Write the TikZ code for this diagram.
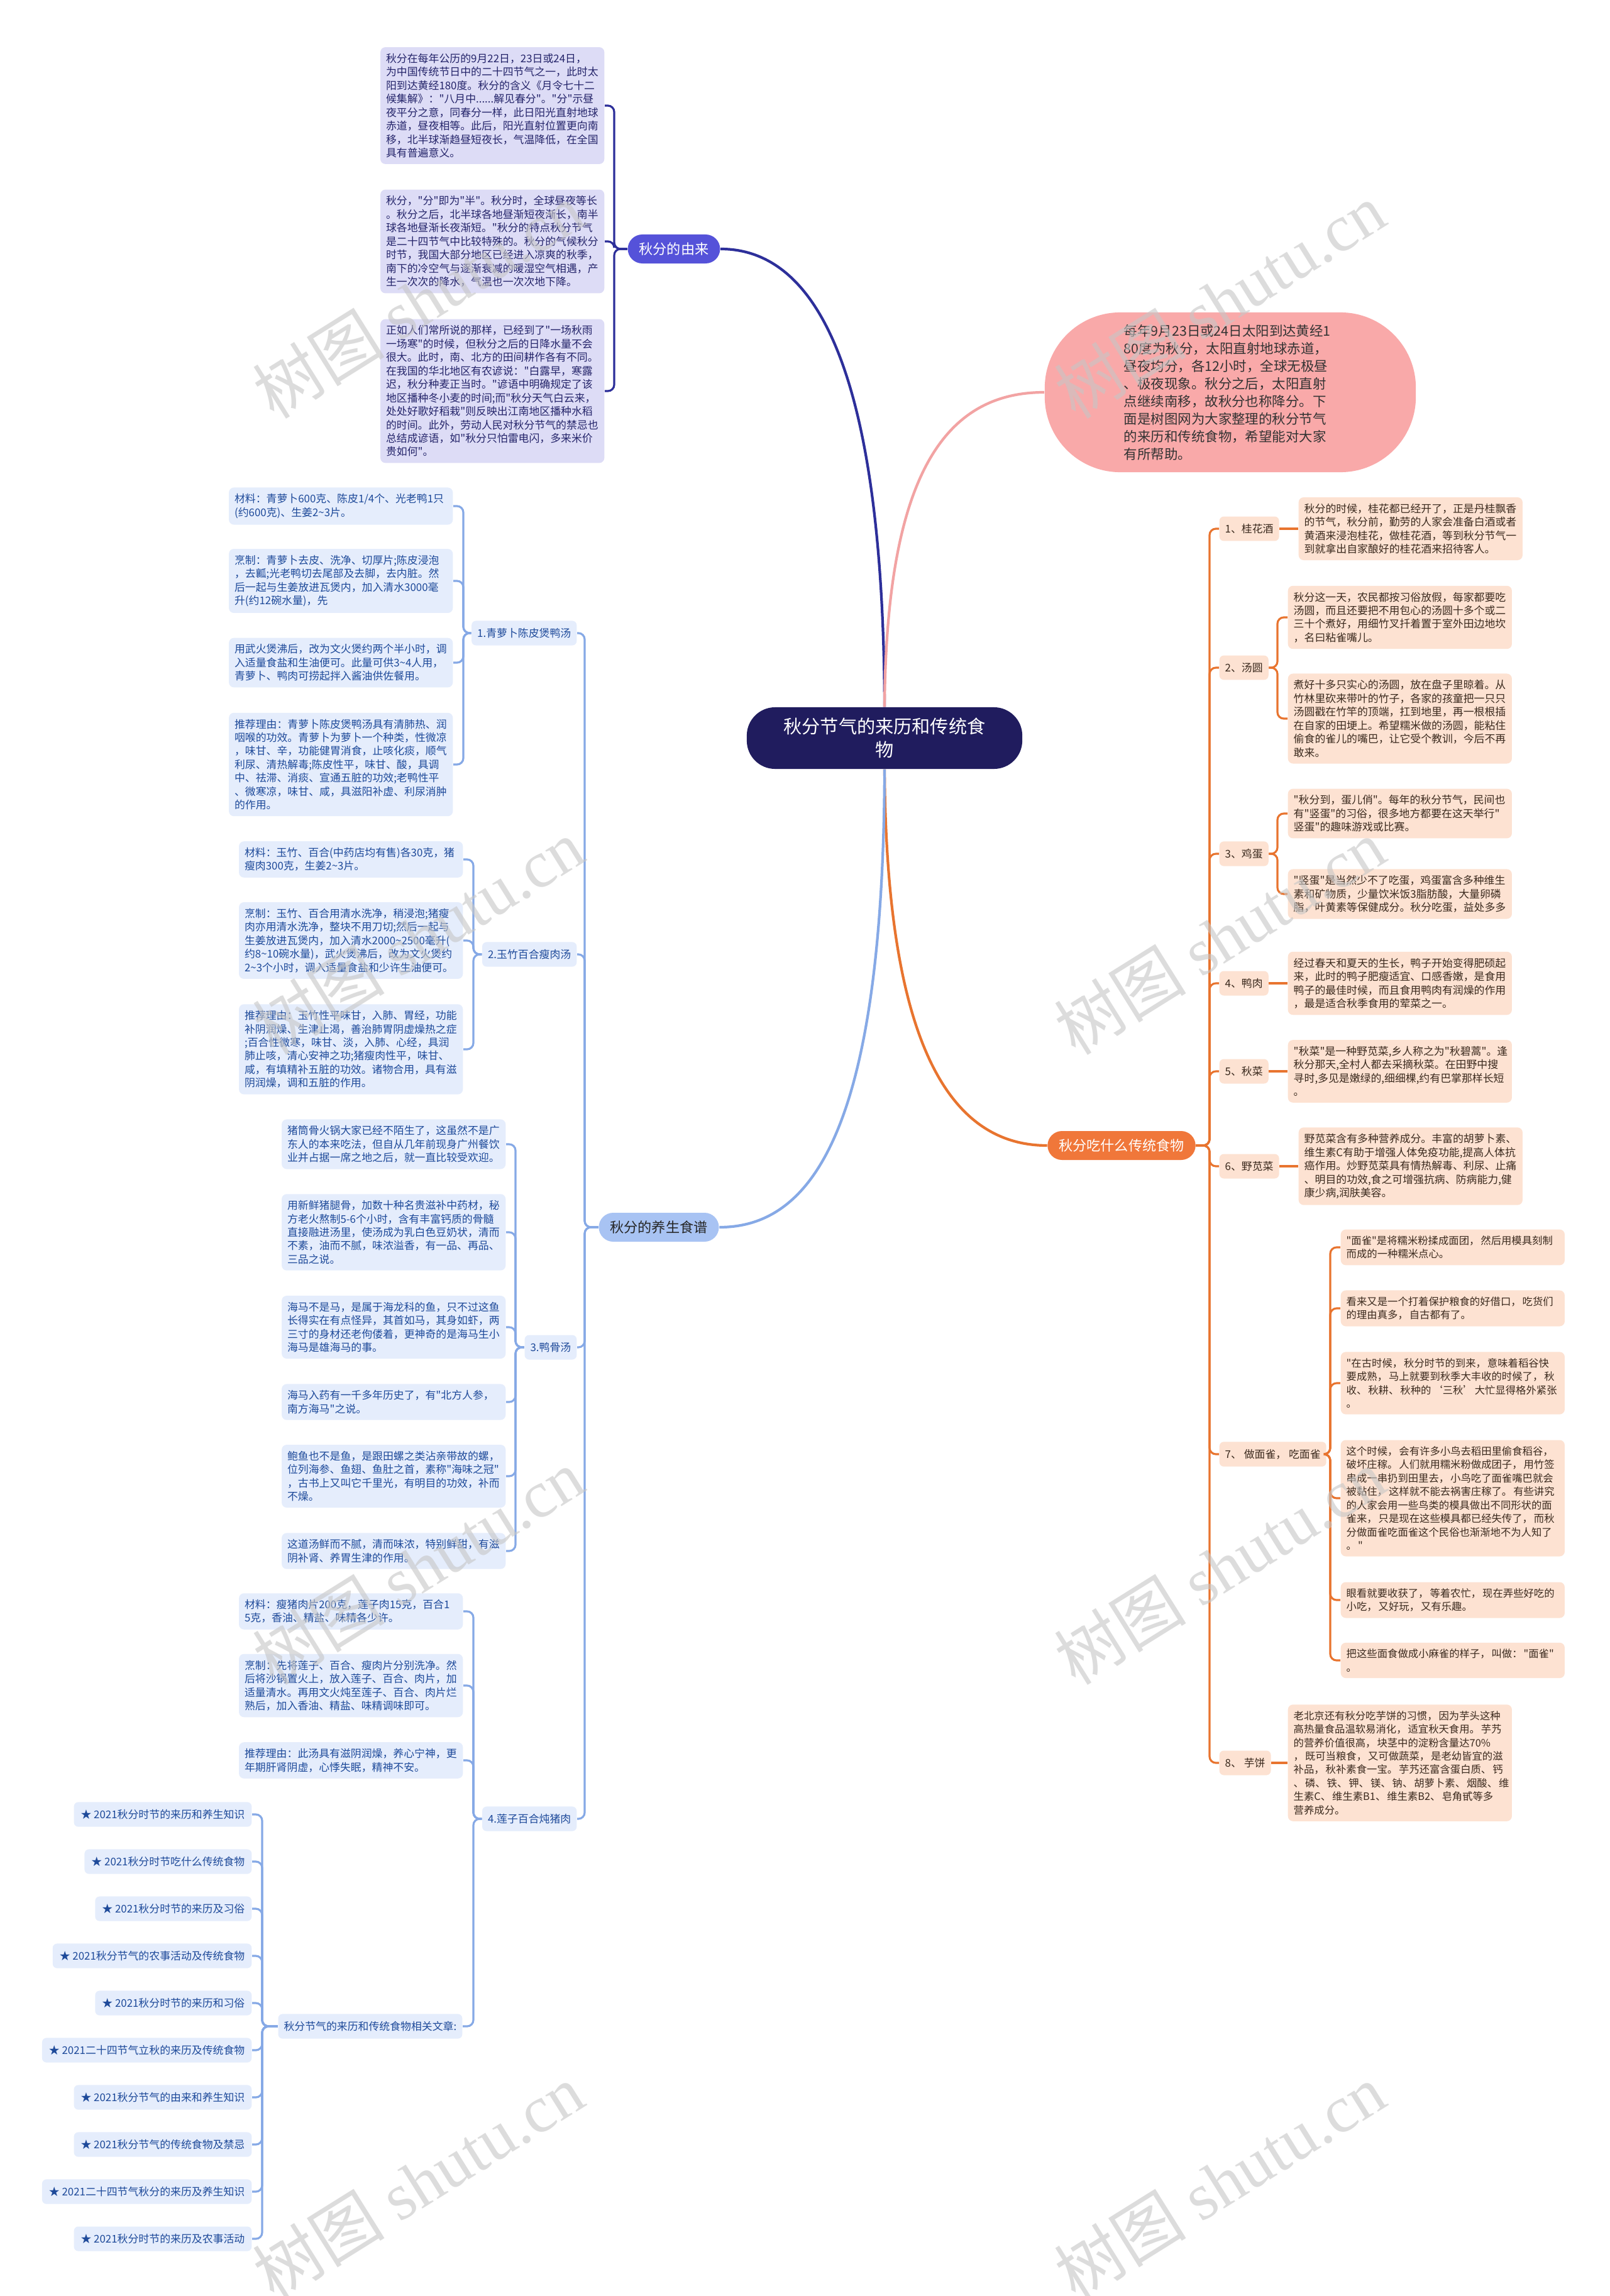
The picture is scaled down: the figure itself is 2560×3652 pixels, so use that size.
\documentclass[tikz,border=0pt]{standalone}
\usepackage{fontspec}
\newfontfamily\cjkfont{Noto Sans CJK SC}
\newfontfamily\marcafont{Liberation Serif}
\newcommand\hueco{\kern0.12em}
\definecolor{raizFill}{HTML}{201C5E}
\definecolor{introFill}{HTML}{F9A9A9}
\definecolor{introLine}{HTML}{F2A3A3}
\definecolor{youFill}{HTML}{5552D9}
\definecolor{youBox}{HTML}{DDDCF6}
\definecolor{youText}{HTML}{24246A}
\definecolor{youLine}{HTML}{2D2F9A}
\definecolor{yangFill}{HTML}{A8C3F3}
\definecolor{yangBox}{HTML}{E5EDFC}
\definecolor{yangText}{HTML}{1E4A9A}
\definecolor{yangLine}{HTML}{86A9E6}
\definecolor{chiFill}{HTML}{F0773A}
\definecolor{chiBox}{HTML}{FDE2D2}
\definecolor{chiText}{HTML}{3B2A1E}
\definecolor{chiLine}{HTML}{E8742F}
\begin{document}
\cjkfont
\begin{tikzpicture}[
    x=0.01cm,
    y=-0.01cm,
    font=\fontsize{4.8}{6.1}\selectfont,
    caja/.style={rounded corners=0.08cm,inner xsep=0.09cm,inner ysep=0.1cm,
        text width=3.38cm,align=left},
    cajaYou/.style={caja,fill=youBox,text=youText},
    cajaYang/.style={caja,fill=yangBox,text=yangText},
    cajaChi/.style={caja,fill=chiBox,text=chiText},
    cajaMian/.style={cajaChi,font=\fontsize{4.65}{6.1}\selectfont},
    tema/.style={rounded corners=0.07cm,inner xsep=0.09cm,minimum height=0.34cm},
    temaYang/.style={tema,fill=yangBox,text=yangText},
    temaChi/.style={tema,fill=chiBox,text=chiText},
    rama/.style={rounded corners=0.23cm,inner xsep=0.18cm,minimum height=0.46cm,
        font=\fontsize{6.3}{7.5}\selectfont},
    ligaYou/.style={youLine,line width=0.9pt,rounded corners=0.1cm},
    ligaYang/.style={yangLine,line width=0.9pt,rounded corners=0.1cm},
    ligaChi/.style={chiLine,line width=0.9pt,rounded corners=0.1cm},
    marca/.style={text=gray!45,opacity=0.6,rotate=32,font=\fontsize{30}{30}\selectfont}
]
    \useasboundingbox[fill=white] (0,0) rectangle (2560,3652);

    % centro
    \node[fill=raizFill,text=white,rounded corners=0.45cm,minimum width=4.38cm,
        minimum height=0.98cm,align=center,font=\fontsize{8.3}{10.6}\selectfont]
        (raiz) at (1407,1174) {秋分节气的来历和传统食\\物};
    \node[fill=introFill,text=black!80,rounded corners=1.2cm,minimum width=5.9cm,
        minimum height=2.54cm,text width=3.38cm,align=left,
        font=\fontsize{6.1}{7.97}\selectfont] (intro) at (1957,624)
        {每年9月23日或24日太阳到达黄经1\\
         80度为秋分，太阳直射地球赤道，\\
         昼夜均分，各12小时，全球无极昼\\
         、极夜现象。秋分之后，太阳直射\\
         点继续南移，故秋分也称降分。下\\
         面是树图网为大家整理的秋分节气\\
         的来历和传统食物，希望能对大家\\
         有所帮助。};
    \node[rama,fill=youFill,text=white] (youlai) at (1072,396) {秋分的由来};
    \node[rama,fill=chiFill,text=white] (chi) at (1784,1822) {秋分吃什么传统食物};
    \node[rama,fill=yangFill,text=black!85] (yang) at (1048,1952) {秋分的养生食谱};
    \draw[youLine,line width=1.2pt] (raiz.north)
        .. controls (1405,620) and (1310,396) .. (youlai.east);
    \draw[introLine,line width=1.2pt] (raiz.north)
        .. controls (1410,760) and (1500,624) .. (intro.west);
    \draw[chiLine,line width=1.2pt] (raiz.south)
        .. controls (1410,1660) and (1510,1822) .. (chi.west);
    \draw[yangLine,line width=1.2pt] (raiz.south)
        .. controls (1405,1800) and (1290,1952) .. (yang.east);

    % 秋分的由来
    \node[cajaYou,anchor=east] (youlai1) at (962,168)
        {秋分在每年公历的9月22日，23日或24日，\\
         为中国传统节日中的二十四节气之一，此时太\\
         阳到达黄经180度。秋分的含义《月令七十二\\
         候集解》："八月中......解见春分"。"分"示昼\\
         夜平分之意，同春分一样，此日阳光直射地球\\
         赤道，昼夜相等。此后，阳光直射位置更向南\\
         移，北半球渐趋昼短夜长，气温降低，在全国\\
         具有普遍意义。};
    \node[cajaYou,anchor=east] (youlai2) at (962,384)
        {秋分，"分"即为"半"。秋分时，全球昼夜等长\\
         。秋分之后，北半球各地昼渐短夜渐长，南半\\
         球各地昼渐长夜渐短。"秋分的特点秋分节气\\
         是二十四节气中比较特殊的。秋分的气候秋分\\
         时节，我国大部分地区已经进入凉爽的秋季，\\
         南下的冷空气与逐渐衰减的暖湿空气相遇，产\\
         生一次次的降水，气温也一次次地下降。};
    \node[cajaYou,anchor=east] (youlai3) at (962,622)
        {正如人们常所说的那样，已经到了"一场秋雨\\
         一场寒"的时候，但秋分之后的日降水量不会\\
         很大。此时，南、北方的田间耕作各有不同。\\
         在我国的华北地区有农谚说："白露早，寒露\\
         迟，秋分种麦正当时。"谚语中明确规定了该\\
         地区播种冬小麦的时间;而"秋分天气白云来，\\
         处处好歌好稻栽"则反映出江南地区播种水稻\\
         的时间。此外，劳动人民对秋分节气的禁忌也\\
         总结成谚语，如"秋分只怕雷电闪，多来米价\\
         贵如何"。};
    \foreach \n in {1,2,3}{
        \draw[ligaYou] (youlai\n.east) -- ++(15,0) |- (youlai.west);
    }

    % 秋分的养生食谱
    \node[temaYang,anchor=east] (pu1) at (918,1007) {1.青萝卜陈皮煲鸭汤};
    \node[temaYang,anchor=east] (pu2) at (918,1518) {2.玉竹百合瘦肉汤};
    \node[temaYang,anchor=east] (pu3) at (918,2143) {3.鸭骨汤};
    \node[temaYang,anchor=east] (pu4) at (918,2893) {4.莲子百合炖猪肉};
    \foreach \n in {1,2,3,4}{
        \draw[ligaYang] (pu\n.east) -- ++(12,0) |- (yang.west);
    }

    \node[cajaYang,anchor=east] (pu1a) at (721,805)
        {材料：青萝卜600克、陈皮1/4个、光老鸭1只\\
         (约600克)、生姜2\textasciitilde3片。};
    \node[cajaYang,anchor=east] (pu1b) at (721,924)
        {烹制：青萝卜去皮、洗净、切厚片;陈皮浸泡\\
         ，去瓤;光老鸭切去尾部及去脚，去内脏。然\\
         后一起与生姜放进瓦煲内，加入清水3000毫\\
         升(约12碗水量)，先};
    \node[cajaYang,anchor=east] (pu1c) at (721,1054)
        {用武火煲沸后，改为文火煲约两个半小时，调\\
         入适量食盐和生油便可。此量可供3\textasciitilde4人用，\\
         青萝卜、鸭肉可捞起拌入酱油供佐餐用。};
    \node[cajaYang,anchor=east] (pu1d) at (721,1216)
        {推荐理由：青萝卜陈皮煲鸭汤具有清肺热、润\\
         咽喉的功效。青萝卜为萝卜一个种类，性微凉\\
         ，味甘、辛，功能健胃消食，止咳化痰，顺气\\
         利尿、清热解毒;陈皮性平，味甘、酸，具调\\
         中、祛滞、消痰、宣通五脏的功效;老鸭性平\\
         、微寒凉，味甘、咸，具滋阳补虚、利尿消肿\\
         的作用。};
    \foreach \n in {a,b,c,d}{
        \draw[ligaYang] (pu1\n.east) -- ++(16,0) |- (pu1.west);
    }

    \node[cajaYang,anchor=east] (pu2a) at (737,1367)
        {材料：玉竹、百合(中药店均有售)各30克，猪\\
         瘦肉300克，生姜2\textasciitilde3片。};
    \node[cajaYang,anchor=east] (pu2b) at (737,1496)
        {烹制：玉竹、百合用清水洗净，稍浸泡;猪瘦\\
         肉亦用清水洗净，整块不用刀切;然后一起与\\
         生姜放进瓦煲内，加入清水2000\textasciitilde2500毫升(\\
         约8\textasciitilde10碗水量)，武火煲沸后，改为文火煲约\\
         2\textasciitilde3个小时，调入适量食盐和少许生油便可。};
    \node[cajaYang,anchor=east] (pu2c) at (737,1669)
        {推荐理由：玉竹性平味甘，入肺、胃经，功能\\
         补阴润燥、生津止渴，善治肺胃阴虚燥热之症\\
         ;百合性微寒，味甘、淡，入肺、心经，具润\\
         肺止咳，清心安神之功;猪瘦肉性平，味甘、\\
         咸，有填精补五脏的功效。诸物合用，具有滋\\
         阴润燥，调和五脏的作用。};
    \foreach \n in {a,b,c}{
        \draw[ligaYang] (pu2\n.east) -- ++(16,0) |- (pu2.west);
    }

    \node[cajaYang,anchor=east] (pu3a) at (805,1820)
        {猪筒骨火锅大家已经不陌生了，这虽然不是广\\
         东人的本来吃法，但自从几年前现身广州餐饮\\
         业并占据一席之地之后，就一直比较受欢迎。};
    \node[cajaYang,anchor=east] (pu3b) at (805,1960)
        {用新鲜猪腿骨，加数十种名贵滋补中药材，秘\\
         方老火熬制5-6个小时，含有丰富钙质的骨髓\\
         直接融进汤里，使汤成为乳白色豆奶状，清而\\
         不素，油而不腻，味浓溢香，有一品、再品、\\
         三品之说。};
    \node[cajaYang,anchor=east] (pu3c) at (805,2111)
        {海马不是马，是属于海龙科的鱼，只不过这鱼\\
         长得实在有点怪异，其首如马，其身如虾，两\\
         三寸的身材还老佝偻着，更神奇的是海马生小\\
         海马是雄海马的事。};
    \node[cajaYang,anchor=east] (pu3d) at (805,2230)
        {海马入药有一千多年历史了，有"北方人参，\\
         南方海马"之说。};
    \node[cajaYang,anchor=east] (pu3e) at (805,2348)
        {鲍鱼也不是鱼，是跟田螺之类沾亲带故的螺，\\
         位列海参、鱼翅、鱼肚之首，素称"海味之冠"\\
         ，古书上又叫它千里光，有明目的功效，补而\\
         不燥。};
    \node[cajaYang,anchor=east] (pu3f) at (805,2467)
        {这道汤鲜而不腻，清而味浓，特别鲜甜，有滋\\
         阴补肾、养胃生津的作用。};
    \foreach \n in {a,b,c,d,e,f}{
        \draw[ligaYang] (pu3\n.east) -- ++(15,0) |- (pu3.west);
    }

    \node[cajaYang,anchor=east] (pu4a) at (737,2563)
        {材料：瘦猪肉片200克，莲子肉15克，百合1\\
         5克，香油、精盐、味精各少许。};
    \node[cajaYang,anchor=east] (pu4b) at (737,2681)
        {烹制：先将莲子、百合、瘦肉片分别洗净。然\\
         后将沙锅置火上，放入莲子、百合、肉片，加\\
         适量清水。再用文火炖至莲子、百合、肉片烂\\
         熟后，加入香油、精盐、味精调味即可。};
    \node[cajaYang,anchor=east] (pu4c) at (737,2800)
        {推荐理由：此汤具有滋阴润燥，养心宁神，更\\
         年期肝肾阴虚，心悸失眠，精神不安。};
    \node[temaYang,anchor=east,minimum height=0.37cm] (wenzhang) at (736,3223)
        {秋分节气的来历和传统食物相关文章:};
    \foreach \n in {a,b,c}{
        \draw[ligaYang] (pu4\n.east) -- ++(16,0) |- (pu4.west);
    }
    \draw[ligaYang] (wenzhang.east) -- ++(17,0) |- (pu4.west);

    \foreach \i/\t in {0/2021秋分时节的来历和养生知识,1/2021秋分时节吃什么传统食物,
        2/2021秋分时节的来历及习俗,3/2021秋分节气的农事活动及传统食物,
        4/2021秋分时节的来历和习俗,5/2021二十四节气立秋的来历及传统食物,
        6/2021秋分节气的由来和养生知识,7/2021秋分节气的传统食物及禁忌,
        8/2021二十四节气秋分的来历及养生知识,9/2021秋分时节的来历及农事活动}{
        \node[temaYang,anchor=east,inner xsep=0.11cm,minimum height=0.38cm]
            (wz\i) at (401,{2886+75*\i}) {★ \t};
        \draw[ligaYang] (wz\i.east) -- ++(16,0) |- (wenzhang.west);
    }

    % 秋分吃什么传统食物
    \node[temaChi,anchor=west,minimum height=0.37cm] (shi1) at (1939,841) {1、桂花酒};
    \node[temaChi,anchor=west,minimum height=0.37cm] (shi2) at (1939,1062) {2、汤圆};
    \node[temaChi,anchor=west,minimum height=0.37cm] (shi3) at (1939,1358) {3、鸡蛋};
    \node[temaChi,anchor=west,minimum height=0.37cm] (shi4) at (1939,1564) {4、鸭肉};
    \node[temaChi,anchor=west,minimum height=0.37cm] (shi5) at (1939,1704) {5、秋菜};
    \node[temaChi,anchor=west,minimum height=0.37cm] (shi6) at (1939,1855) {6、野苋菜};
    \node[temaChi,anchor=west,minimum height=0.37cm] (shi7) at (1939,2313) {7、 做面雀， 吃面雀};
    \node[temaChi,anchor=west,minimum height=0.37cm] (shi8) at (1939,2804) {8、 芋饼};
    \foreach \n in {1,...,8}{
        \draw[ligaChi] (shi\n.west) -- ++(-15,0) |- (chi.east);
    }

    \node[cajaChi,anchor=west] (shi1a) at (2065,841)
        {秋分的时候，桂花都已经开了，正是丹桂飘香\\
         的节气，秋分前，勤劳的人家会准备白酒或者\\
         黄酒来浸泡桂花，做桂花酒，等到秋分节气一\\
         到就拿出自家酿好的桂花酒来招待客人。};
    \draw[ligaChi] (shi1.east) -- (shi1a.west);

    \node[cajaChi,anchor=west] (shi2a) at (2048,982)
        {秋分这一天，农民都按习俗放假，每家都要吃\\
         汤圆，而且还要把不用包心的汤圆十多个或二\\
         三十个煮好，用细竹叉扦着置于室外田边地坎\\
         ，名曰粘雀嘴儿。};
    \node[cajaChi,anchor=west] (shi2b) at (2048,1143)
        {煮好十多只实心的汤圆，放在盘子里晾着。从\\
         竹林里砍来带叶的竹子，各家的孩童把一只只\\
         汤圆戳在竹竿的顶端，扛到地里，再一根根插\\
         在自家的田埂上。希望糯米做的汤圆，能粘住\\
         偷食的雀儿的嘴巴，让它受个教训，今后不再\\
         敢来。};
    \foreach \n in {a,b}{
        \draw[ligaChi] (shi2\n.west) -- ++(-16,0) |- (shi2.east);
    }

    \node[cajaChi,anchor=west] (shi3a) at (2048,1294)
        {"秋分到，蛋儿俏"。每年的秋分节气，民间也\\
         有"竖蛋"的习俗，很多地方都要在这天举行"\\
         竖蛋"的趣味游戏或比赛。};
    \node[cajaChi,anchor=west] (shi3b) at (2048,1422)
        {"竖蛋"是当然少不了吃蛋，鸡蛋富含多种维生\\
         素和矿物质，少量饮米饭3脂肪酸，大量卵磷\\
         脂，叶黄素等保健成分。秋分吃蛋，益处多多};
    \foreach \n in {a,b}{
        \draw[ligaChi] (shi3\n.west) -- ++(-16,0) |- (shi3.east);
    }

    \node[cajaChi,anchor=west] (shi4a) at (2048,1564)
        {经过春天和夏天的生长，鸭子开始变得肥硕起\\
         来，此时的鸭子肥瘦适宜、口感香嫩，是食用\\
         鸭子的最佳时候，而且食用鸭肉有润燥的作用\\
         ，最是适合秋季食用的荤菜之一。};
    \draw[ligaChi] (shi4.east) -- (shi4a.west);
    \node[cajaChi,anchor=west] (shi5a) at (2048,1704)
        {"秋菜"是一种野苋菜,乡人称之为"秋碧蒿"。逢\\
         秋分那天,全村人都去采摘秋菜。在田野中搜\\
         寻时,多见是嫩绿的,细细棵,约有巴掌那样长短\\
         。};
    \draw[ligaChi] (shi5.east) -- (shi5a.west);
    \node[cajaChi,anchor=west] (shi6a) at (2065,1855)
        {野苋菜含有多种营养成分。丰富的胡萝卜素、\\
         维生素C有助于增强人体免疫功能,提高人体抗\\
         癌作用。炒野苋菜具有情热解毒、利尿、止痛\\
         、明目的功效,食之可增强抗病、防病能力,健\\
         康少病,润肤美容。};
    \draw[ligaChi] (shi6.east) -- (shi6a.west);

    \node[cajaMian,anchor=west] (shi7a) at (2132,1984)
        {"面雀"是将糯米粉揉成面团，\hueco 然后用模具刻制\\
         而成的一种糯米点心。};
    \node[cajaMian,anchor=west] (shi7b) at (2132,2081)
        {看来又是一个打着保护粮食的好借口，\hueco 吃货们\\
         的理由真多，\hueco 自古都有了。};
    \node[cajaMian,anchor=west] (shi7c) at (2132,2200)
        {"在古时候，\hueco 秋分时节的到来，\hueco 意味着稻谷快\\
         要成熟，\hueco 马上就要到秋季大丰收的时候了，\hueco 秋\\
         收、\hueco 秋耕、\hueco 秋种的\hueco ‘三秋’\hueco 大忙显得格外紧张\\
         。};
    \node[cajaMian,anchor=west] (shi7d) at (2132,2383)
        {这个时候，\hueco 会有许多小鸟去稻田里偷食稻谷，\\
         破坏庄稼。\hueco 人们就用糯米粉做成团子，\hueco 用竹签\\
         串成一串扔到田里去，\hueco 小鸟吃了面雀嘴巴就会\\
         被黏住，\hueco 这样就不能去祸害庄稼了。\hueco 有些讲究\\
         的人家会用一些鸟类的模具做出不同形状的面\\
         雀来，\hueco 只是现在这些模具都已经失传了，\hueco 而秋\\
         分做面雀吃面雀这个民俗也渐渐地不为人知了\\
         。\hueco "};
    \node[cajaMian,anchor=west] (shi7e) at (2132,2545)
        {眼看就要收获了，\hueco 等着农忙，\hueco 现在弄些好吃的\\
         小吃，\hueco 又好玩，\hueco 又有乐趣。};
    \node[cajaMian,anchor=west] (shi7f) at (2132,2641)
        {把这些面食做成小麻雀的样子，\hueco 叫做：\hueco "面雀"\\
         。};
    \foreach \n in {a,b,c,d,e,f}{
        \draw[ligaChi] (shi7\n.west) -- ++(-16,0) |- (shi7.east);
    }

    \node[cajaMian,anchor=west] (shi8a) at (2048,2804)
        {老北京还有秋分吃芋饼的习惯，\hueco 因为芋头这种\\
         高热量食品温软易消化，\hueco 适宜秋天食用。\hueco 芋艿\\
         的营养价值很高，\hueco 块茎中的淀粉含量达70\%\\
         ，\hueco 既可当粮食，\hueco 又可做蔬菜，\hueco 是老幼皆宜的滋\\
         补品，\hueco 秋补素食一宝。\hueco 芋艿还富含蛋白质、\hueco 钙\\
         、\hueco 磷、\hueco 铁、\hueco 钾、\hueco 镁、\hueco 钠、\hueco 胡萝卜素、\hueco 烟酸、\hueco 维\\
         生素C、\hueco 维生素B1、\hueco 维生素B2、\hueco 皂角甙等多\\
         营养成分。};
    \draw[ligaChi] (shi8.east) -- (shi8a.west);

    % marca de agua
    \foreach \mx/\my in {665/478,1940/478,665/1490,1940/1490,
        665/2492,1940/2492,665/3470,1940/3470}{
        \node[marca] at (\mx,\my) {树图 {\marcafont shutu.cn}};
    }
\end{tikzpicture}
\end{document}
